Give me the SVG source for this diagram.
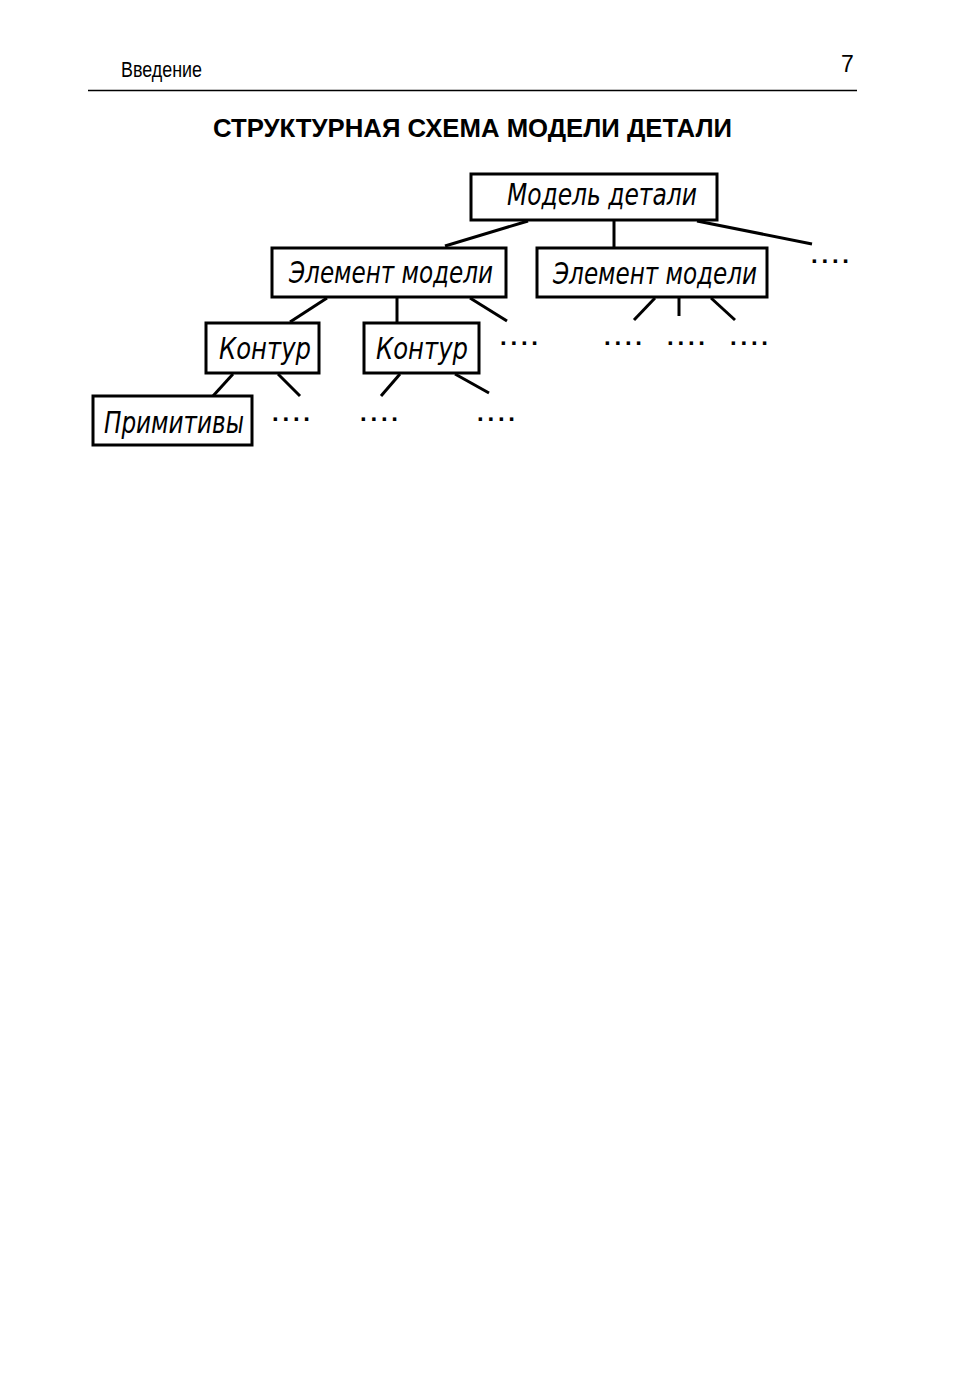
<svg xmlns="http://www.w3.org/2000/svg" width="975" height="1388" viewBox="0 0 975 1388">
<style>
.box{fill:#fff;stroke:#000;stroke-width:3}
.lbl{font-family:"Liberation Sans Narrow","DejaVu Sans Condensed","Liberation Sans",sans-serif;font-style:italic;font-size:30px;fill:#000}
.dots{font-family:"Liberation Sans","DejaVu Sans",sans-serif;font-weight:bold;font-size:24px;fill:#000}
.conn line{stroke:#000;stroke-width:3;stroke-linecap:butt}
</style>
<rect width="975" height="1388" fill="#fff"/>
<g id="header">
<text x="121" y="77" font-family="Liberation Sans Narrow,Liberation Sans,sans-serif" font-size="22" textLength="81" lengthAdjust="spacingAndGlyphs">Введение</text>
<text x="841" y="72" font-family="Liberation Sans Narrow,Liberation Sans,sans-serif" font-size="23">7</text>
<line x1="88" y1="90.5" x2="857" y2="90.5" stroke="#000" stroke-width="1.5"/>
</g>
<text id="title" x="213" y="137" font-family="Liberation Sans Narrow,Liberation Sans,Arial,sans-serif" font-weight="bold" font-size="25" textLength="519" lengthAdjust="spacingAndGlyphs">СТРУКТУРНАЯ СХЕМА МОДЕЛИ ДЕТАЛИ</text>
<g id="connectors" class="conn">
<line x1="528" y1="221" x2="445" y2="246"/>
<line x1="614" y1="221" x2="614" y2="247"/>
<line x1="697" y1="221" x2="812" y2="244"/>
<line x1="327" y1="298" x2="290" y2="322"/>
<line x1="397" y1="298" x2="397" y2="322"/>
<line x1="470" y1="298" x2="507" y2="321"/>
<line x1="655" y1="298" x2="634" y2="320"/>
<line x1="679" y1="298" x2="679" y2="316"/>
<line x1="711" y1="298" x2="735" y2="320"/>
<line x1="233" y1="374" x2="213" y2="396"/>
<line x1="278" y1="374" x2="300" y2="396"/>
<line x1="400" y1="374" x2="381" y2="396"/>
<line x1="455" y1="374" x2="489" y2="393"/>
</g>
<g id="n_model">
<rect class="box" x="471" y="174" width="246" height="46"/>
<text class="lbl" x="507" y="205" textLength="190" lengthAdjust="spacingAndGlyphs">Модель детали</text>
</g>
<g id="n_elem1">
<rect class="box" x="272" y="248" width="234" height="49"/>
<text class="lbl" x="289" y="283" textLength="204" lengthAdjust="spacingAndGlyphs">Элемент модели</text>
</g>
<g id="n_elem2">
<rect class="box" x="537" y="248" width="230" height="49"/>
<text class="lbl" x="553" y="284" textLength="204" lengthAdjust="spacingAndGlyphs">Элемент модели</text>
</g>
<g id="n_kontur1">
<rect class="box" x="206" y="323" width="113" height="50"/>
<text class="lbl" x="219" y="359" textLength="92" lengthAdjust="spacingAndGlyphs">Контур</text>
</g>
<g id="n_kontur2">
<rect class="box" x="364" y="323" width="115" height="50"/>
<text class="lbl" x="376" y="359" textLength="92" lengthAdjust="spacingAndGlyphs">Контур</text>
</g>
<g id="n_prim">
<rect class="box" x="93" y="396" width="159" height="49"/>
<text class="lbl" x="104" y="433" textLength="140" lengthAdjust="spacingAndGlyphs">Примитивы</text>
</g>
<g id="dots">
<text class="dots" x="811" y="263" textLength="38" lengthAdjust="spacing">....</text>
<text class="dots" x="500" y="345" textLength="38" lengthAdjust="spacing">....</text>
<text class="dots" x="604" y="345" textLength="38" lengthAdjust="spacing">....</text>
<text class="dots" x="667" y="345" textLength="38" lengthAdjust="spacing">....</text>
<text class="dots" x="730" y="345" textLength="38" lengthAdjust="spacing">....</text>
<text class="dots" x="272" y="421" textLength="38" lengthAdjust="spacing">....</text>
<text class="dots" x="360" y="421" textLength="38" lengthAdjust="spacing">....</text>
<text class="dots" x="477" y="421" textLength="38" lengthAdjust="spacing">....</text>
</g>
</svg>
